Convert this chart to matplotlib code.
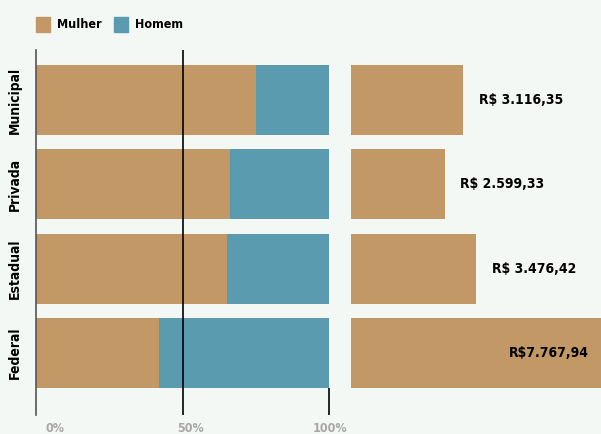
import matplotlib.pyplot as plt

# Dados
setores = ['Federal', 'Estadual', 'Privada', 'Municipal']
mulher = [42, 65.2, 66.2, 75.1]
homem = [100 - m for m in mulher]
salario = [7767.94, 3476.42, 2599.33, 3116.35]
rotulos = ['R$7.767,94', 'R$ 3.476,42', 'R$ 2.599,33', 'R$ 3.116,35']
ticks_pct = [0, 50, 100]
ticks_txt = ['0%', '50%', '100%']

bg = '#f4f8f4'
tan = '#c29966'
azul = '#5b9bb0'
plt.rcParams['font.family'] = ['DejaVu Sans']
plt.rcParams['font.stretch'] = 'condensed'

W, H = 601, 434
fig = plt.figure(figsize=(W / 100, H / 100), dpi=100, facecolor=bg)

def box(x0, x1, y0, y1):
    return [x0 / W, 1 - y1 / H, (x1 - x0) / W, (y1 - y0) / H]

y = list(range(len(setores)))
ylim = (-0.735, 3.593)
bh = 0.83

ax = fig.add_axes(box(36, 329, 50, 415))
ax.set_facecolor(bg)
ax.barh(y, mulher, height=bh, color=tan, zorder=1)
ax.barh(y, homem, left=mulher, height=bh, color=azul, zorder=1)
ax.set_xlim(0, 100)
ax.set_ylim(*ylim)
ax.axvline(50, color='black', lw=1.2, zorder=3)
ax.vlines(100, ylim[0], -bh / 2, color='black', lw=1.2, zorder=3, clip_on=False)
for s in ['top', 'right', 'bottom']:
    ax.spines[s].set_visible(False)
ax.spines['left'].set_color('#555555')
ax.spines['left'].set_linewidth(1.2)
ax.set_xticks([])
ax.set_yticks(y)
ax.set_yticklabels(setores, rotation=90, va='center', fontsize=10, fontweight='bold')
ax.tick_params(axis='y', length=0, pad=10)

# rotulos do eixo x
tick_x = [55, 191, 330]
for px, t in zip(tick_x, ticks_txt):
    fig.text(px / W, 1 - 429 / H, t, ha='center', va='center',
             fontsize=9, fontweight='bold', color='#a8a8a8')

ax2 = fig.add_axes(box(351, 601, 50, 415))
ax2.set_facecolor(bg)
ax2.barh(y, salario, height=bh, color=tan)
ax2.set_xlim(0, 250 / 36 * 1000)
ax2.set_ylim(*ylim)
ax2.axis('off')
for yi, v, r in zip(y, salario, rotulos):
    if v > 6000:
        ax2.text(6600, yi, r, ha='right', va='center', fontsize=10, fontweight='bold')
    else:
        ax2.text(v + 430, yi, r, ha='left', va='center', fontsize=10, fontweight='bold')

# legenda
fig.patches.append(plt.Rectangle((36 / W, 1 - 32 / H), 14 / W, 15 / H, color=tan, transform=fig.transFigure))
fig.text(57 / W, 1 - 24 / H, 'Mulher', va='center', fontsize=9, fontweight='bold')
fig.patches.append(plt.Rectangle((114 / W, 1 - 32 / H), 14 / W, 15 / H, color=azul, transform=fig.transFigure))
fig.text(135 / W, 1 - 24 / H, 'Homem', va='center', fontsize=9, fontweight='bold')

fig.savefig('out.png', dpi=100, facecolor=bg)
